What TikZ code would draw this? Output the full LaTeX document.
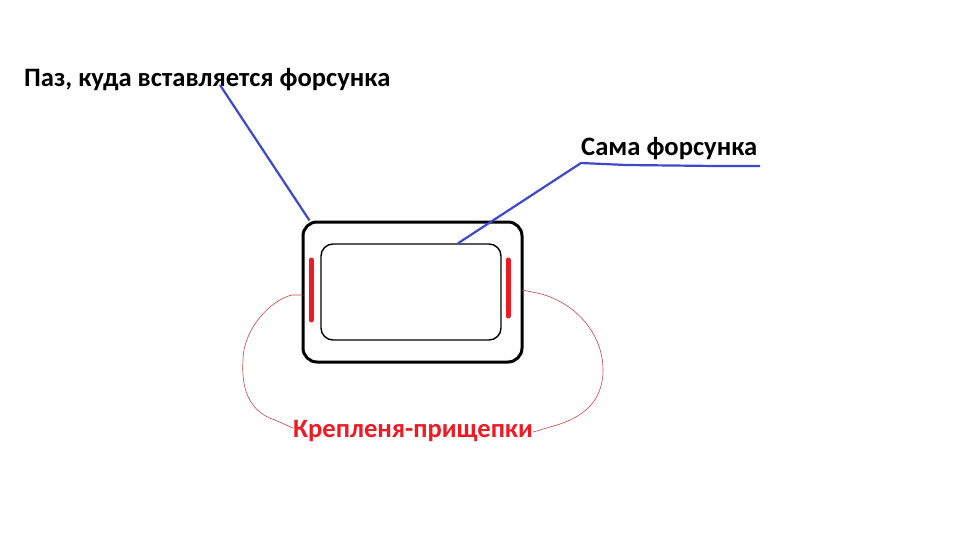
\documentclass[tikz,border=0pt]{standalone}
\usepackage{fontspec}
\setmainfont{Carlito}
\usepackage{tikz}
\usetikzlibrary{calc}

\definecolor{paintblue}{HTML}{3F48CC}
\definecolor{paintred}{HTML}{ED1C24}
\definecolor{clipred}{HTML}{C04848}

\begin{document}
\begin{tikzpicture}[x=1pt, y=-1pt, font=\bfseries\fontsize{26.6}{30}\selectfont]

\tikzstyle{housing} = [draw, shape=rectangle, rounded corners=14pt, line width=3pt, minimum width=219pt, minimum height=140pt, inner sep=0pt]
\tikzstyle{injector} = [draw, shape=rectangle, rounded corners=12pt, line width=1.4pt, minimum width=180pt, minimum height=96pt, inner sep=0pt]
\tikzstyle{label} = [anchor=base west, inner sep=0pt]
\tikzstyle{pointer} = [draw=paintblue, line width=2.2pt]
\tikzstyle{clip} = [draw=paintred, line width=5pt, line cap=round]
\tikzstyle{loop} = [draw=clipred, line width=0.6pt]

\useasboundingbox (0,0) rectangle (960,540);

\node [housing] at (412.5,292) (housing) {};
\node [injector] at (411,292) (injector) {};

\node [label] at (24,87) (slot) {Паз, куда вставляется форсунка};
\node [label] at (581,156) (nozzle) {Сама форсунка};
\node [label, text=paintred] at (293,437) (clips) {Крепленя-прищепки};

% clips on both sides
\draw [clip] (311,260) -- (311,320);
\draw [clip] (508,260) -- (508,316);

% pointers
\coordinate (slotend) at (220,85);
\coordinate (bend) at (581,163);
\coordinate (tail) at (760,166);
\draw [pointer] (slotend) -- ($(housing.north west)+(8,0)$);
\draw [pointer] (tail) -- (716,166) -- (626,165) -- (bend) -- ($(injector.north)+(47,0)$);

% loop round the clips
\draw [loop] (303,295) -- (292,295) .. controls (270,300) and (243,330) .. (243,360)
  .. controls (241,390) and (250,412) .. (275,420) -- (clips.west |- 0,428);
\draw [loop] (522,290) -- (532,292) .. controls (570,298) and (603,330) .. (603,370)
  .. controls (603,400) and (585,418) .. (550,427) -- (clips.east |- 0,432);

\end{tikzpicture}
\end{document}
